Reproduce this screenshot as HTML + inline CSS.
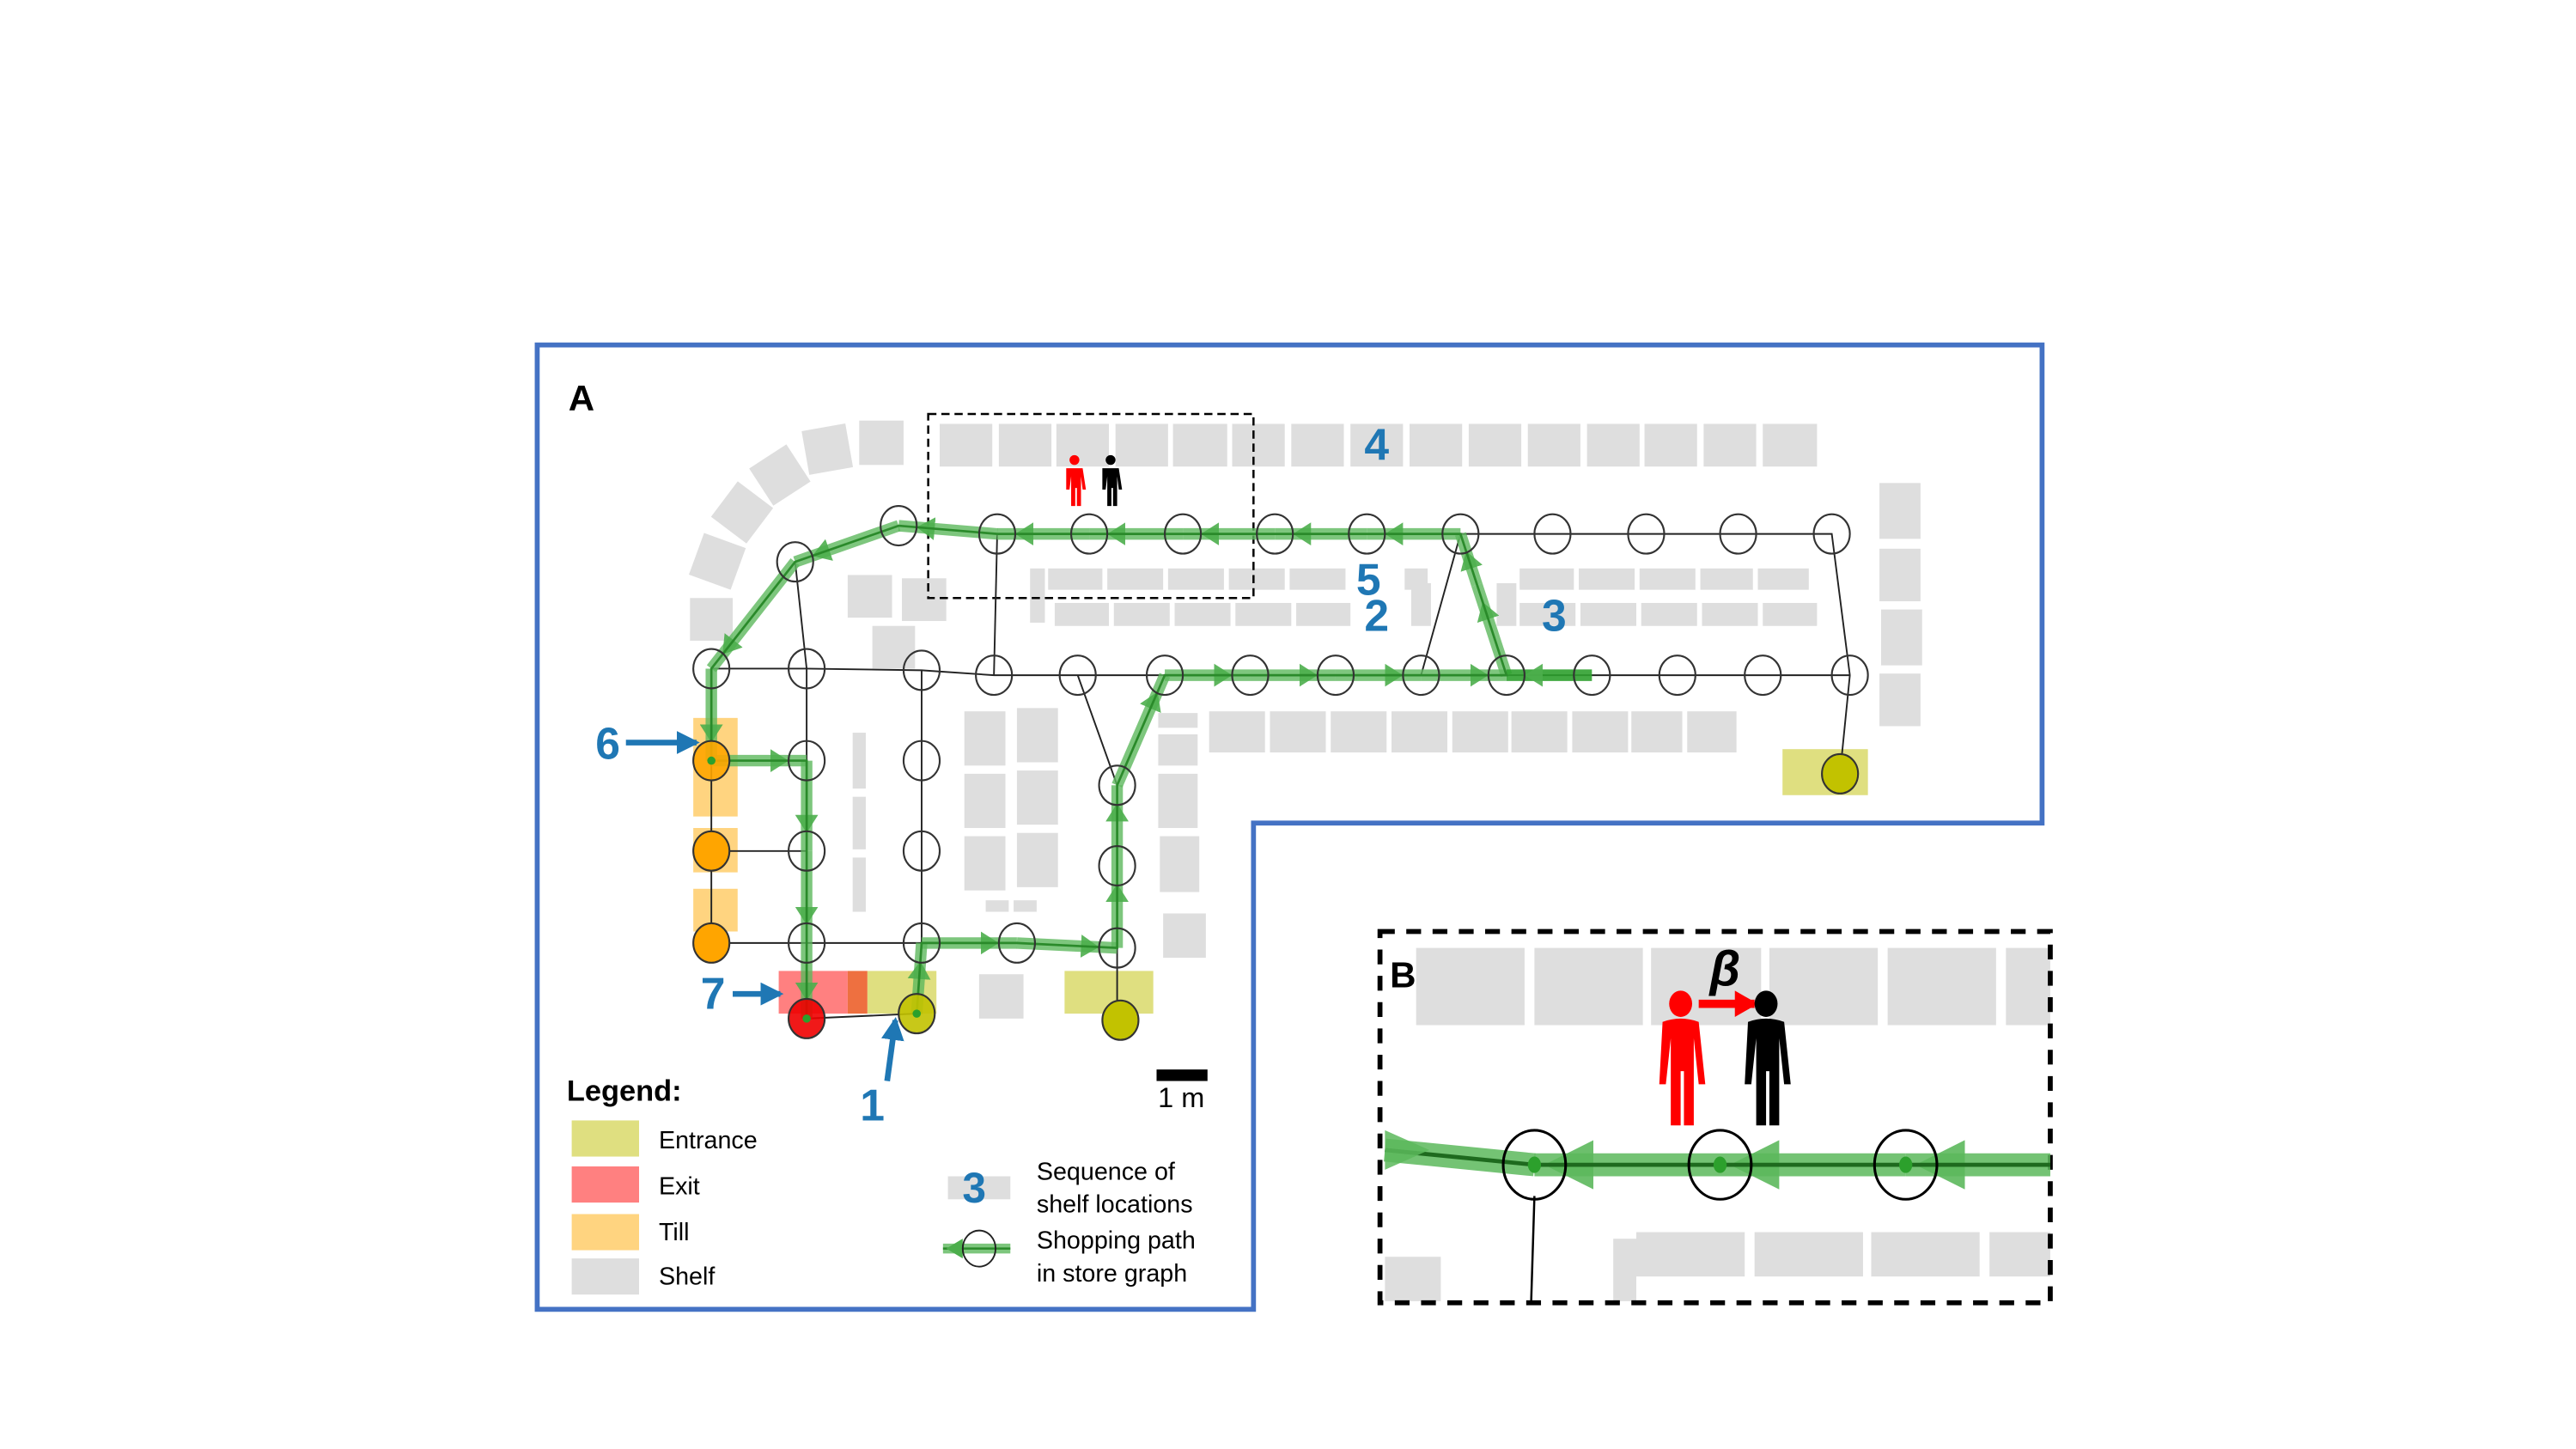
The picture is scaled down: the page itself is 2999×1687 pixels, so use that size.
<!DOCTYPE html>
<html><head><meta charset="utf-8"><style>
html,body{margin:0;padding:0;background:#fff}
svg{display:block}
text{font-family:"Liberation Sans",sans-serif}
</style></head><body>
<svg width="2999" height="1687" viewBox="0 0 1568 882" preserveAspectRatio="none" xmlns="http://www.w3.org/2000/svg">
<defs>
<marker id="ar" markerUnits="userSpaceOnUse" markerWidth="40" markerHeight="14" refX="22" refY="7" orient="auto" viewBox="0 0 40 14">
<path d="M0,0 L11,7 L0,14 z" fill="#4cae4c" fill-opacity="0.9"/></marker>
<marker id="arB" markerUnits="userSpaceOnUse" markerWidth="60" markerHeight="30" refX="36" refY="15" orient="auto" viewBox="0 0 60 30">
<path d="M0,0 L30,15 L0,30 z" fill="#5cb85c" fill-opacity="0.9"/></marker>
<marker id="ba" markerUnits="userSpaceOnUse" markerWidth="14" markerHeight="14" refX="12" refY="7" orient="auto" viewBox="0 0 14 14">
<path d="M0,0 L14,7 L0,14 z" fill="#1f77b4"/></marker>
<marker id="ra" markerUnits="userSpaceOnUse" markerWidth="14" markerHeight="16" refX="12" refY="8" orient="auto" viewBox="0 0 14 16">
<path d="M0,0 L14,8 L0,16 z" fill="#f00"/></marker>
</defs>

<polygon points="327,210 1243,210 1243,501 763,501 763,797 327,797" fill="none" stroke="#4472C4" stroke-width="3"/>
<text x="346" y="250" font-size="22" font-weight="bold">A</text>

<g fill="#dedede">
<rect x="572" y="258" width="32" height="26"/><rect x="608" y="258" width="32" height="26"/><rect x="643" y="258" width="32" height="26"/><rect x="679" y="258" width="32" height="26"/><rect x="714" y="258" width="33" height="26"/><rect x="750" y="258" width="32" height="26"/><rect x="786" y="258" width="32" height="26"/><rect x="822" y="258" width="32" height="26"/><rect x="858" y="258" width="32" height="26"/><rect x="894" y="258" width="32" height="26"/><rect x="930" y="258" width="32" height="26"/><rect x="966" y="258" width="32" height="26"/><rect x="1001" y="258" width="32" height="26"/><rect x="1037" y="258" width="32" height="26"/><rect x="1073" y="258" width="33" height="26"/>
<rect x="523" y="256" width="27" height="27"/>
<rect x="490" y="260" width="27" height="27" transform="rotate(-10 503 273)"/>
<rect x="461" y="276" width="27" height="27" transform="rotate(-33 474 289)"/>
<rect x="438" y="299" width="27" height="27" transform="rotate(-53 451 312)"/>
<rect x="423" y="329" width="27" height="27" transform="rotate(-70 436 342)"/>
<rect x="420" y="364" width="26" height="26"/>
<rect x="638" y="346" width="33" height="13"/><rect x="674" y="346" width="34" height="13"/><rect x="711" y="346" width="34" height="13"/><rect x="748" y="346" width="34" height="13"/><rect x="785" y="346" width="34" height="13"/><rect x="855" y="346" width="14" height="13"/><rect x="925" y="346" width="33" height="13"/><rect x="961" y="346" width="34" height="13"/><rect x="998" y="346" width="34" height="13"/><rect x="1035" y="346" width="32" height="13"/><rect x="1070" y="346" width="31" height="13"/>
<rect x="642" y="367" width="33" height="14"/><rect x="678" y="367" width="34" height="14"/><rect x="715" y="367" width="34" height="14"/><rect x="752" y="367" width="34" height="14"/><rect x="789" y="367" width="33" height="14"/><rect x="925" y="367" width="34" height="14"/><rect x="962" y="367" width="34" height="14"/><rect x="999" y="367" width="34" height="14"/><rect x="1036" y="367" width="34" height="14"/><rect x="1073" y="367" width="33" height="14"/>
<rect x="627" y="346" width="9" height="33"/><rect x="859" y="355" width="12" height="26"/><rect x="911" y="355" width="12" height="26"/>
<rect x="516" y="350" width="27" height="26"/><rect x="549" y="352" width="27" height="26"/><rect x="531" y="381" width="26" height="26"/>
<rect x="1144" y="294" width="25" height="34"/><rect x="1144" y="334" width="25" height="32"/><rect x="1145" y="371" width="25" height="34"/><rect x="1144" y="410" width="25" height="32"/>
<rect x="736" y="433" width="34" height="25"/><rect x="773" y="433" width="34" height="25"/><rect x="810" y="433" width="34" height="25"/><rect x="847" y="433" width="34" height="25"/><rect x="884" y="433" width="34" height="25"/><rect x="920" y="433" width="34" height="25"/><rect x="957" y="433" width="34" height="25"/><rect x="993" y="433" width="31" height="25"/><rect x="1027" y="433" width="30" height="25"/>
<rect x="519" y="446" width="8" height="34"/><rect x="519" y="485" width="8" height="32"/><rect x="519" y="522" width="8" height="33"/>
<rect x="587" y="433" width="25" height="33"/><rect x="619" y="431" width="25" height="33"/><rect x="587" y="471" width="25" height="33"/><rect x="619" y="469" width="25" height="33"/><rect x="587" y="509" width="25" height="33"/><rect x="619" y="507" width="25" height="33"/><rect x="600" y="548" width="14" height="7"/><rect x="617" y="548" width="14" height="7"/>
<rect x="705" y="434" width="24" height="9"/><rect x="705" y="447" width="24" height="19"/><rect x="705" y="471" width="24" height="33"/><rect x="706" y="509" width="24" height="34"/><rect x="708" y="556" width="26" height="27"/>
<rect x="596" y="593" width="27" height="27"/>
</g>
<g>
<rect x="422" y="437" width="27" height="60" fill="#ffd480"/>
<rect x="422" y="504" width="27" height="27" fill="#ffd480"/>
<rect x="422" y="541" width="27" height="26" fill="#ffd480"/>
<rect x="474" y="591" width="42" height="26" fill="#ff8080"/>
<rect x="516" y="591" width="12" height="26" fill="#ee7040"/>
<rect x="528" y="591" width="42" height="26" fill="#dfdf80"/>
<rect x="648" y="591" width="54" height="26" fill="#dfdf80"/>
<rect x="1085" y="456" width="52" height="28" fill="#dfdf80"/>
</g>

<rect x="565" y="252" width="198" height="112" fill="none" stroke="#000" stroke-width="1.3" stroke-dasharray="5,3"/>

<g stroke="#222" stroke-width="1" fill="none">
<polyline points="547,320 607,325 1115,325 1126,411 1120,471"/>
<polyline points="547,320 484,342 433,407 433,574"/>
<polyline points="484,342 491,407 491,620 558,617 561,574 561,408"/>
<polyline points="433,407 491,407 561,408 605,411 656,411 1126,411"/>
<line x1="607" y1="325" x2="605" y2="411"/>
<line x1="889" y1="325" x2="865" y2="411"/>
<line x1="656" y1="411" x2="680" y2="478"/>
<polyline points="680,478 680,621"/>
<line x1="433" y1="463" x2="491" y2="463"/><line x1="433" y1="518" x2="491" y2="518"/><line x1="433" y1="574" x2="491" y2="574"/>
<polyline points="491,574 561,574 619,574 680,577"/>
</g>

<g stroke="#5cb85c" stroke-opacity="0.8" stroke-width="7" fill="none" stroke-linecap="butt" marker-end="url(#ar)">
<line x1="558" y1="617" x2="561" y2="574"/>
<line x1="561" y1="574" x2="619" y2="574"/>
<line x1="619" y1="574" x2="680" y2="577"/>
<line x1="680" y1="577" x2="680" y2="527"/>
<line x1="680" y1="527" x2="680" y2="478"/>
<line x1="680" y1="478" x2="709" y2="411"/>
<line x1="709" y1="411" x2="761" y2="411"/>
<line x1="761" y1="411" x2="813" y2="411"/>
<line x1="813" y1="411" x2="865" y2="411"/>
<line x1="865" y1="411" x2="917" y2="411"/>
<line x1="917" y1="411" x2="899" y2="356"/>
<line x1="899" y1="356" x2="889" y2="325"/>
<line x1="889" y1="325" x2="832" y2="325"/>
<line x1="832" y1="325" x2="776" y2="325"/>
<line x1="776" y1="325" x2="720" y2="325"/>
<line x1="720" y1="325" x2="663" y2="325"/>
<line x1="663" y1="325" x2="607" y2="325"/>
<line x1="607" y1="325" x2="547" y2="320"/>
<line x1="547" y1="320" x2="484" y2="342"/>
<line x1="484" y1="342" x2="433" y2="407"/>
<line x1="433" y1="407" x2="433" y2="463"/>
<line x1="433" y1="463" x2="491" y2="463"/>
<line x1="491" y1="463" x2="491" y2="518"/>
<line x1="491" y1="518" x2="491" y2="574"/>
<line x1="491" y1="574" x2="491" y2="620"/>
<line x1="969" y1="411" x2="917" y2="411" stroke="#2ea02e" stroke-opacity="0.9"/>
</g>
<polyline points="558,617 561,574 619,574 680,577 680,478 709,411 917,411 889,325 607,325 547,320 484,342 433,407 433,463 491,463 491,620" fill="none" stroke="#2a8a2a" stroke-width="1.4"/>

<g fill="none" stroke="#333" stroke-width="1.1">
<g fill="#fff" fill-opacity="0.01">
<ellipse cx="547" cy="320" rx="11" ry="12"/><ellipse cx="484" cy="342" rx="11" ry="12"/>
<ellipse cx="607" cy="325" rx="11" ry="12"/><ellipse cx="663" cy="325" rx="11" ry="12"/><ellipse cx="720" cy="325" rx="11" ry="12"/><ellipse cx="776" cy="325" rx="11" ry="12"/><ellipse cx="832" cy="325" rx="11" ry="12"/><ellipse cx="889" cy="325" rx="11" ry="12"/><ellipse cx="945" cy="325" rx="11" ry="12"/><ellipse cx="1002" cy="325" rx="11" ry="12"/><ellipse cx="1058" cy="325" rx="11" ry="12"/><ellipse cx="1115" cy="325" rx="11" ry="12"/>
<ellipse cx="433" cy="407" rx="11" ry="12"/><ellipse cx="491" cy="407" rx="11" ry="12"/><ellipse cx="561" cy="408" rx="11" ry="12"/><ellipse cx="605" cy="411" rx="11" ry="12"/><ellipse cx="656" cy="411" rx="11" ry="12"/><ellipse cx="709" cy="411" rx="11" ry="12"/><ellipse cx="761" cy="411" rx="11" ry="12"/><ellipse cx="813" cy="411" rx="11" ry="12"/><ellipse cx="865" cy="411" rx="11" ry="12"/><ellipse cx="917" cy="411" rx="11" ry="12"/><ellipse cx="969" cy="411" rx="11" ry="12"/><ellipse cx="1021" cy="411" rx="11" ry="12"/><ellipse cx="1073" cy="411" rx="11" ry="12"/><ellipse cx="1126" cy="411" rx="11" ry="12"/>
<ellipse cx="491" cy="463" rx="11" ry="12"/><ellipse cx="491" cy="518" rx="11" ry="12"/><ellipse cx="491" cy="574" rx="11" ry="12"/>
<ellipse cx="561" cy="463" rx="11" ry="12"/><ellipse cx="561" cy="518" rx="11" ry="12"/><ellipse cx="561" cy="574" rx="11" ry="12"/>
<ellipse cx="619" cy="574" rx="11" ry="12"/><ellipse cx="680" cy="478" rx="11" ry="12"/><ellipse cx="680" cy="527" rx="11" ry="12"/><ellipse cx="680" cy="577" rx="11" ry="12"/>
</g>
<ellipse cx="433" cy="463" rx="11" ry="12" fill="#ffa500" fill-opacity="0.9"/><ellipse cx="433" cy="518" rx="11" ry="12" fill="#ffa500"/><ellipse cx="433" cy="574" rx="11" ry="12" fill="#ffa500"/>
<ellipse cx="491" cy="620" rx="11" ry="12" fill="#ee0000" fill-opacity="0.9"/>
<ellipse cx="558" cy="617" rx="11" ry="12" fill="#c2c200" fill-opacity="0.9"/><ellipse cx="682" cy="621" rx="11" ry="12" fill="#c2c200"/><ellipse cx="1120" cy="471" rx="11" ry="12" fill="#c2c200"/>
</g>
<g fill="#2ca02c"><circle cx="433" cy="463" r="2.5"/><circle cx="491" cy="620" r="2.5"/><circle cx="558" cy="617" r="2.5"/></g>

<g fill="#f00"><circle cx="654" cy="280" r="3"/><path d="M649,285 h10 l2,13 h-2 l-1,-8 v18 h-2.5 v-11 h-1 v11 h-2.5 v-18 l-1,8 h-2 z"/></g>
<g fill="#000"><circle cx="676" cy="280" r="3"/><path d="M671,285 h10 l2,13 h-2 l-1,-8 v18 h-2.5 v-11 h-1 v11 h-2.5 v-18 l-1,8 h-2 z"/></g>

<g fill="#1f77b4" font-weight="bold" font-size="27" text-anchor="middle">
<text x="838" y="280">4</text><text x="833" y="362">5</text><text x="838" y="384">2</text><text x="946" y="384">3</text>
<text x="370" y="462">6</text><text x="434" y="614">7</text><text x="531" y="682">1</text>
</g>
<g stroke="#1f77b4" stroke-width="3.5" marker-end="url(#ba)">
<line x1="381" y1="452" x2="424" y2="452"/>
<line x1="446" y1="605" x2="475" y2="605"/>
<line x1="540" y1="658" x2="545" y2="621"/>
</g>

<rect x="704" y="651" width="31" height="7" fill="#000"/>
<text x="719" y="674" font-size="17" text-anchor="middle">1 m</text>

<text x="345" y="670" font-size="18" font-weight="bold">Legend:</text>
<rect x="348" y="682" width="41" height="22" fill="#dfdf80"/><text x="401" y="699" font-size="15">Entrance</text>
<rect x="348" y="710" width="41" height="22" fill="#ff8080"/><text x="401" y="727" font-size="15">Exit</text>
<rect x="348" y="739" width="41" height="22" fill="#ffd480"/><text x="401" y="755" font-size="15">Till</text>
<rect x="348" y="766" width="41" height="22" fill="#dedede"/><text x="401" y="782" font-size="15">Shelf</text>
<rect x="577" y="716" width="38" height="14" fill="#dedede"/>
<text x="593" y="732" font-size="26" font-weight="bold" fill="#1f77b4" text-anchor="middle">3</text>
<text x="631" y="718" font-size="15">Sequence of</text><text x="631" y="738" font-size="15">shelf locations</text>
<line x1="574" y1="760" x2="615" y2="760" stroke="#5cb85c" stroke-opacity="0.8" stroke-width="6"/>
<line x1="574" y1="760" x2="615" y2="760" stroke="#2a8a2a" stroke-width="1.3"/>
<path d="M586,754 L576,760 L586,766 z" fill="#4cae4c"/>
<ellipse cx="596" cy="760" rx="10" ry="11" fill="none" stroke="#222"/>
<text x="631" y="760" font-size="15">Shopping path</text><text x="631" y="780" font-size="15">in store graph</text>

<g fill="#dedede">
<rect x="862" y="577" width="66" height="47"/><rect x="934" y="577" width="66" height="47"/><rect x="1005" y="577" width="67" height="47"/><rect x="1077" y="577" width="66" height="47"/><rect x="1149" y="577" width="66" height="47"/><rect x="1221" y="577" width="27" height="47"/>
<rect x="843" y="765" width="34" height="27"/><rect x="982" y="754" width="14" height="38"/><rect x="996" y="750" width="66" height="27"/><rect x="1068" y="750" width="66" height="27"/><rect x="1139" y="750" width="66" height="27"/><rect x="1211" y="750" width="37" height="27"/>
</g>
<rect x="840" y="567" width="408" height="226" fill="none" stroke="#000" stroke-width="3" stroke-dasharray="9,7"/>
<text x="846" y="601" font-size="22" font-weight="bold">B</text>
<text x="1050" y="600" font-size="30" font-weight="bold" font-style="italic" text-anchor="middle" font-family="Liberation Serif,serif">β</text>
<line x1="1034" y1="611" x2="1068" y2="611" stroke="#f00" stroke-width="5" marker-end="url(#ra)"/>
<g fill="#f00"><ellipse cx="1023" cy="611" rx="7" ry="8"/><path d="M1012,622 q11,-4 22,0 l4,38 h-4 l-3,-28 v53 h-6 v-33 h-2 v33 h-6 v-53 l-3,28 h-4 z"/></g>
<g fill="#000"><ellipse cx="1075" cy="611" rx="7" ry="8"/><path d="M1064,622 q11,-4 22,0 l4,38 h-4 l-3,-28 v53 h-6 v-33 h-2 v33 h-6 v-53 l-3,28 h-4 z"/></g>

<line x1="934" y1="728" x2="932" y2="793" stroke="#000" stroke-width="1.3"/>
<g stroke="#5cb85c" stroke-opacity="0.85" stroke-width="14" fill="none">
<line x1="1248" y1="709" x2="1160" y2="709" marker-end="url(#arB)"/>
<line x1="1160" y1="709" x2="1047" y2="709" marker-end="url(#arB)"/>
<line x1="1047" y1="709" x2="934" y2="709" marker-end="url(#arB)"/>
<line x1="934" y1="709" x2="843" y2="700"/>
</g>
<polyline points="1248,709 934,709 843,700" fill="none" stroke="#1e6a1e" stroke-width="2.5"/>
<path d="M843,688 L843,712 L870,700 z" fill="#5cb85c" fill-opacity="0.85"/>
<g fill="#2ca02c"><ellipse cx="934" cy="709" rx="4" ry="5"/><ellipse cx="1047" cy="709" rx="4" ry="5"/><ellipse cx="1160" cy="709" rx="4" ry="5"/></g>
<g fill="none" stroke="#000" stroke-width="1.6">
<ellipse cx="934" cy="709" rx="19" ry="21"/><ellipse cx="1047" cy="709" rx="19" ry="21"/><ellipse cx="1160" cy="709" rx="19" ry="21"/>
</g>
</svg>
</body></html>
